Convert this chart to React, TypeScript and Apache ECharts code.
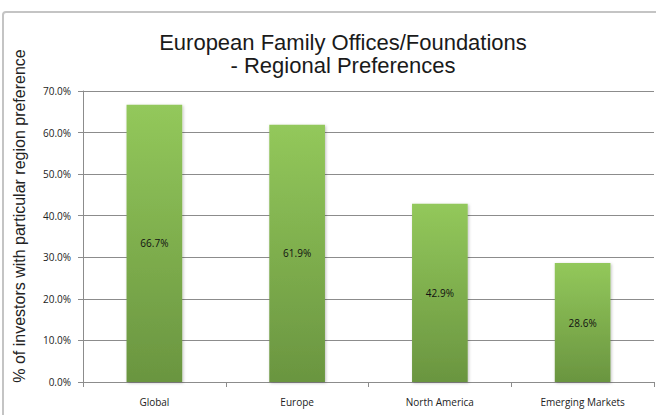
import React, { useEffect, useRef } from "react";
import * as echarts from "echarts";

const categories = ["Global", "Europe", "North America", "Emerging Markets"];
const values = [66.7, 61.9, 42.9, 28.6];
const titleLines = ["European Family Offices/Foundations", "- Regional Preferences"];
const yAxisName = "% of investors with particular region preference";

export default function App() {
  const ref = useRef<HTMLDivElement>(null);
  useEffect(() => {
    if (!ref.current) return;
    const chart = echarts.init(ref.current, undefined, { renderer: "svg" });
    chart.setOption({
      animation: false,
      backgroundColor: "#ffffff",
      graphic: [
        {
          type: "rect",
          shape: { x: 3, y: 12, width: 720, height: 460, r: 3 },
          style: { fill: "none", stroke: "#c4c4c4", lineWidth: 2 },
          silent: true,
        },
        {
          type: "text",
          x: 19,
          y: 216,
          rotation: Math.PI / 2,
          style: {
            text: yAxisName,
            fontFamily: "Liberation Sans, Arial, sans-serif",
            fontSize: 16,
            fill: "#222",
            align: "center",
            verticalAlign: "middle",
          },
          silent: true,
        },
      ],
      title: {
        text: titleLines.join("\n"),
        left: 338,
        top: 26,
        textAlign: "center",
        textStyle: {
          fontFamily: "Liberation Sans, Arial, sans-serif",
          fontSize: 22,
          fontWeight: "normal",
          color: "#1a1a1a",
          lineHeight: 23,
        },
      },
      grid: { left: 83, right: 2, top: 91, bottom: 33, containLabel: false },
      xAxis: {
        type: "category",
        data: categories,
        axisLine: { show: true, lineStyle: { color: "#8c8c8c", width: 1 } },
        axisTick: { show: true, length: 5, lineStyle: { color: "#8c8c8c" } },
        axisLabel: {
          margin: 15,
          fontFamily: "Open Sans, Liberation Sans, sans-serif",
          fontSize: 10,
          color: "#222",
        },
      },
      yAxis: {
        type: "value",
        min: 0,
        max: 70,
        interval: 10,
        axisLine: { show: true, lineStyle: { color: "#8c8c8c", width: 1 } },
        axisTick: { show: true, inside: false, length: 5, lineStyle: { color: "#8c8c8c" } },
        splitLine: { show: true, lineStyle: { color: "#8c8c8c", width: 1 } },
        axisLabel: {
          margin: 12,
          formatter: (v: number) => v.toFixed(1) + "%",
          fontFamily: "Open Sans, Liberation Sans, sans-serif",
          fontSize: 10,
          color: "#222",
        },
      },
      series: [
        {
          type: "bar",
          data: values,
          barWidth: "39%",
          itemStyle: {
            color: new echarts.graphic.LinearGradient(0, 0, 0, 1, [
              { offset: 0, color: "#93c85b" },
              { offset: 1, color: "#6a9540" },
            ]),
            shadowColor: "rgba(0,0,0,0.25)",
            shadowBlur: 3,
            shadowOffsetX: 1,
            shadowOffsetY: 1,
          },
          label: {
            show: true,
            position: "inside",
            formatter: (p: any) => p.value.toFixed(1) + "%",
            fontFamily: "Open Sans, Liberation Sans, sans-serif",
            fontSize: 10,
            color: "#111",
          },
        },
      ],
    });
    return () => chart.dispose();
  }, []);
  return (
    <div
      ref={ref}
      style={{ position: "fixed", left: 0, top: 0, width: 656, height: 415 }}
    />
  );
}
